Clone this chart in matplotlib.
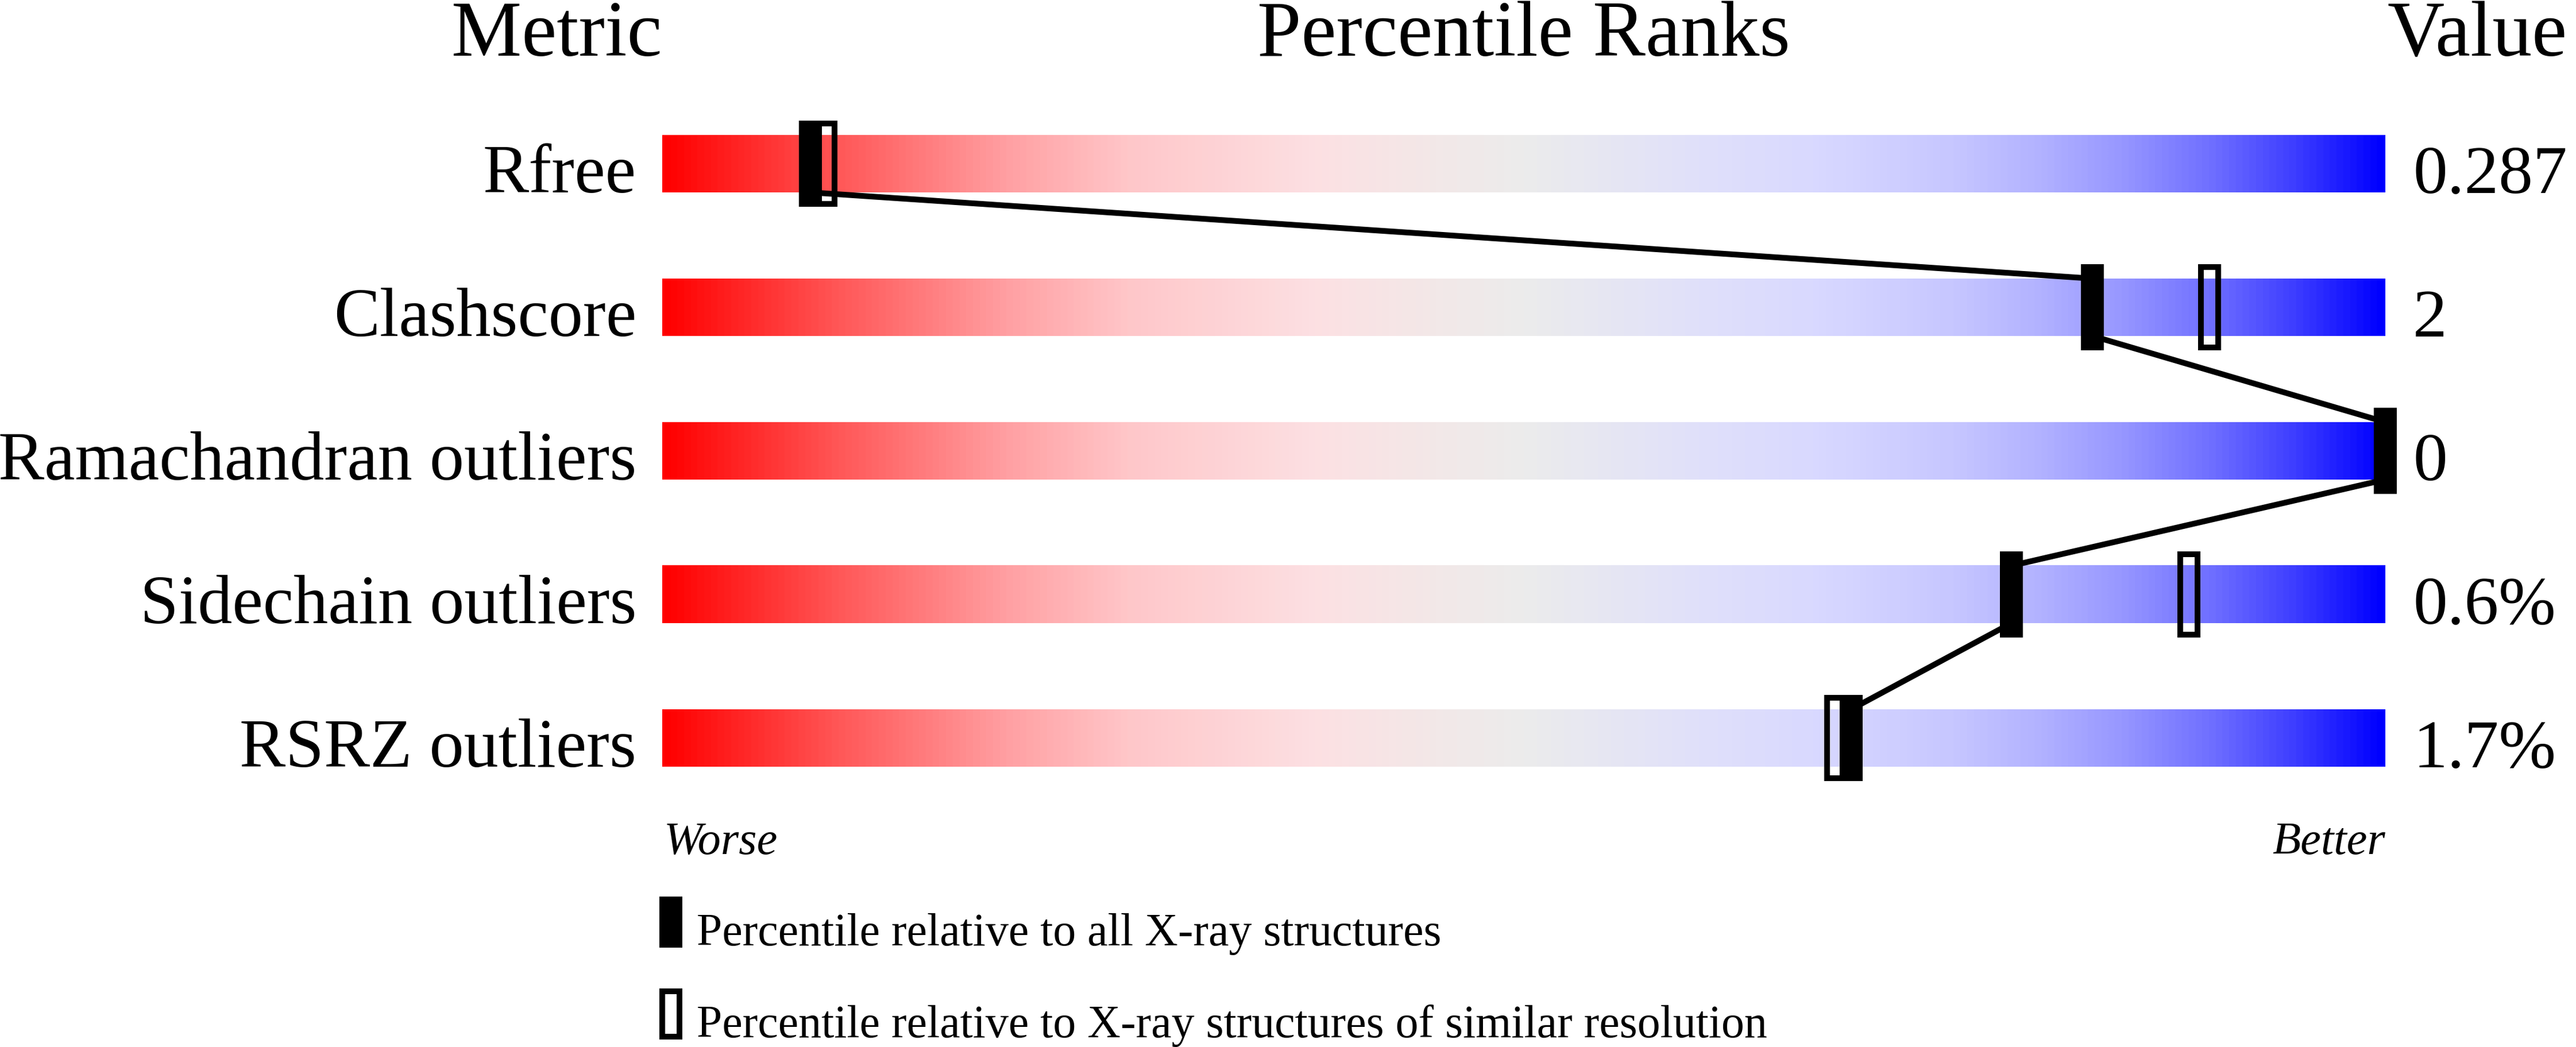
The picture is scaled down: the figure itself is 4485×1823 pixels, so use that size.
import matplotlib
matplotlib.use("Agg")
import matplotlib.pyplot as plt
import numpy as np
from matplotlib.colors import LinearSegmentedColormap
from matplotlib.patches import Rectangle

plt.rcParams["font.family"] = ["Liberation Serif", "DejaVu Serif"]

METRICS = ["Rfree", "Clashscore", "Ramachandran outliers",
           "Sidechain outliers", "RSRZ outliers"]
VALUES = ["0.287", "2", "0", "0.6%", "1.7%"]
PCT_ALL = [8.6, 83.0, 100.0, 78.3, 69.0]       # filled markers
PCT_SIMILAR = [9.5, 89.8, 100.0, 88.6, 68.1]   # hollow markers
HEADERS = ["Metric", "Percentile Ranks", "Value"]
LEGEND_LABELS = ["Percentile relative to all X-ray structures",
                 "Percentile relative to X-ray structures of similar resolution"]

# red -> grey -> lavender -> blue, like the wwPDB slider
CMAP = LinearSegmentedColormap.from_list("slider", [
    (0.00, (1.00, 0.00, 0.00)),
    (0.10, (1.00, 0.34, 0.34)),
    (0.20, (1.00, 0.63, 0.64)),
    (0.27, (1.00, 0.78, 0.79)),
    (0.38, (0.99, 0.88, 0.89)),
    (0.45, (0.95, 0.91, 0.91)),
    (0.50, (0.925, 0.925, 0.925)),
    (0.60, (0.88, 0.88, 0.98)),
    (0.67, (0.85, 0.85, 1.00)),
    (0.75, (0.78, 0.78, 1.00)),
    (0.80, (0.70, 0.70, 1.00)),
    (0.85, (0.59, 0.59, 1.00)),
    (0.90, (0.44, 0.44, 1.00)),
    (0.95, (0.24, 0.24, 1.00)),
    (1.00, (0.00, 0.00, 1.00)),
])

W, H, DPI = 4485, 1824, 100
PX = 72.0 / DPI          # one pixel in points
BAR_H = 0.4              # row units (1 row = 250 px)
MARK_W, MARK_H = 40 / 30.0, 0.6

fig = plt.figure(figsize=(W / DPI, H / DPI), dpi=DPI)
ax = fig.add_axes([1153 / W, 0, 3000 / W, 1])
ax.axis("off")

gradient = np.linspace(0, 1, 512)[None, :]
n = len(METRICS)
for i in range(n):
    ax.imshow(gradient, extent=(0, 100, i + BAR_H / 2, i - BAR_H / 2),
              cmap=CMAP, aspect="auto", interpolation="bilinear", zorder=1)

# line joining the filled markers
xs, ys = [], []
for i, p in enumerate(PCT_ALL):
    xs += [p, p]
    ys += [i - BAR_H / 2, i + BAR_H / 2]
ax.plot(xs[1:-1], ys[1:-1], color="black", lw=10 * PX,
        solid_capstyle="butt", zorder=3, clip_on=False)

# markers
inset_x, inset_y = 5 / 30.0, 5 / 250.0
for i in range(n):
    ax.add_patch(Rectangle((PCT_ALL[i] - MARK_W / 2, i - MARK_H / 2),
                           MARK_W, MARK_H, facecolor="black",
                           edgecolor="none", zorder=4, clip_on=False))
    ax.add_patch(Rectangle((PCT_SIMILAR[i] - MARK_W / 2 + inset_x,
                            i - MARK_H / 2 + inset_y),
                           MARK_W - 2 * inset_x, MARK_H - 2 * inset_y,
                           facecolor="none", edgecolor="black",
                           lw=10 * PX, joinstyle="miter", zorder=5,
                           clip_on=False))

# headers
ax.text(0, -0.757, HEADERS[0], fontsize=99, ha="right", va="baseline")
ax.text(50, -0.757, HEADERS[1], fontsize=99, ha="center", va="baseline")
ax.text(100.1, -0.757, HEADERS[2], fontsize=99, ha="left", va="baseline")

# row labels and values
for i in range(n):
    ax.text(-1.5, i + 0.196, METRICS[i], fontsize=86.5, ha="right", va="baseline")
    ax.text(101.6, i + 0.2, VALUES[i], fontsize=86, ha="left", va="baseline")

ax.text(0.1, 4.804, "Worse", fontsize=58, style="italic", ha="left", va="baseline")
ax.text(100, 4.804, "Better", fontsize=58, style="italic", ha="right", va="baseline")

# legend
ax.add_patch(Rectangle((-0.167, 5.104), MARK_W, 0.356, facecolor="black",
                       edgecolor="none", clip_on=False))
ax.add_patch(Rectangle((-0.167 + inset_x, 5.744 + inset_y),
                       MARK_W - 2 * inset_x, 0.356 - 2 * inset_y,
                       facecolor="none", edgecolor="black", lw=10 * PX,
                       joinstyle="miter", clip_on=False))
ax.text(2.0, 5.44, LEGEND_LABELS[0], fontsize=57.5, ha="left", va="baseline")
ax.text(2.0, 6.08, LEGEND_LABELS[1], fontsize=57.5, ha="left", va="baseline")

ax.set_xlim(0, 100)
ax.set_ylim((H - 286) / 250.0, -286 / 250.0)

fig.savefig("out.png", dpi=DPI, facecolor="white")
